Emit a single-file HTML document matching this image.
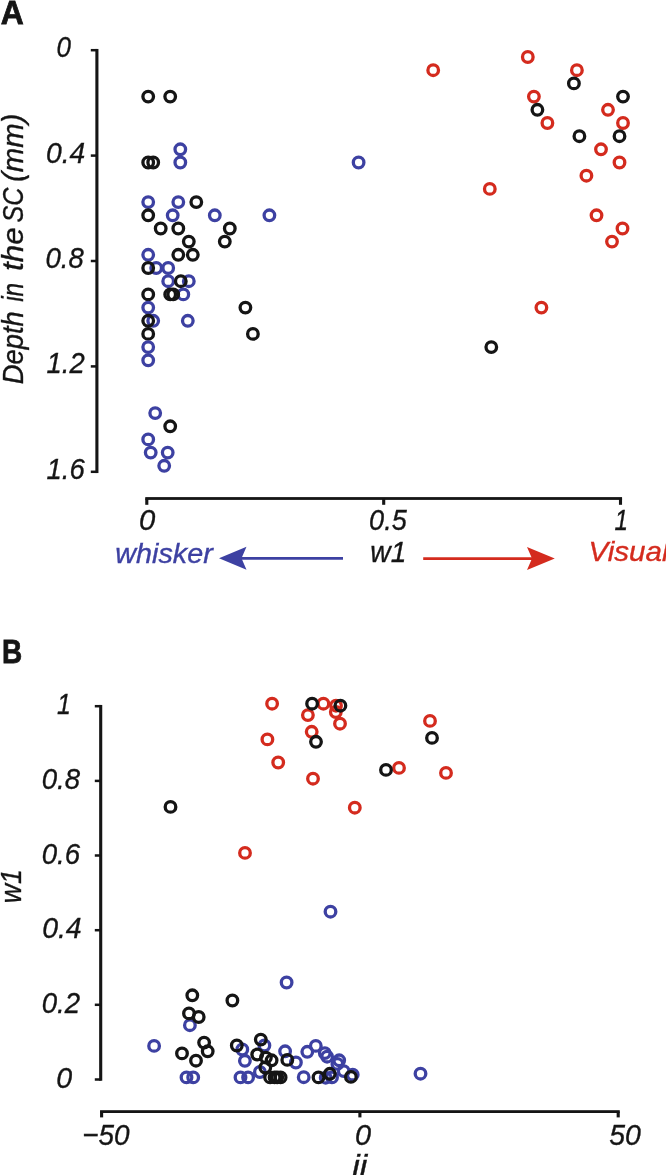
<!DOCTYPE html>
<html><head><meta charset="utf-8"><title>Figure</title>
<style>
html,body{margin:0;padding:0;background:#fff;}
body{width:666px;height:1175px;overflow:hidden;}
svg{display:block;will-change:transform;}
text{font-family:"Liberation Sans",sans-serif;}
.it{font-style:italic;font-size:29.5px;fill:#151515;stroke:#151515;stroke-width:0.35;}
.tk{letter-spacing:0.6px;}
.bd{font-weight:bold;font-size:34px;fill:#151515;stroke:#151515;stroke-width:0.8;}
.ax{stroke:#151515;stroke-width:2.7;fill:none;stroke-linejoin:miter;}
.pts circle{fill:none;stroke-width:3.3;}
</style></head><body>
<svg width="666" height="1175" viewBox="0 0 666 1175">
<rect width="666" height="1175" fill="#ffffff"/>
<text class="bd" x="0.7" y="23.8" textLength="23.0" lengthAdjust="spacingAndGlyphs">A</text>
<text class="bd" x="1.9" y="662.8" textLength="20.2" lengthAdjust="spacingAndGlyphs">B</text>
<rect x="95.35" y="48.95" width="3.1" height="424.10" fill="#151515"/>
<rect x="90.80" y="48.95" width="6.10" height="2.5" fill="#151515"/>
<rect x="90.80" y="154.35" width="6.10" height="2.5" fill="#151515"/>
<rect x="90.80" y="259.75" width="6.10" height="2.5" fill="#151515"/>
<rect x="90.80" y="365.15" width="6.10" height="2.5" fill="#151515"/>
<rect x="90.80" y="470.55" width="6.10" height="2.5" fill="#151515"/>
<rect x="145.25" y="497.10" width="476.80" height="2.8" fill="#151515"/>
<rect x="145.25" y="498.50" width="3.1" height="6.30" fill="#151515"/>
<rect x="382.15" y="498.50" width="3.1" height="6.30" fill="#151515"/>
<rect x="618.95" y="498.50" width="3.1" height="6.30" fill="#151515"/>
<text class="it" x="56.40" y="57.2" textLength="14.44" lengthAdjust="spacingAndGlyphs">0</text>
<text class="it" x="46.00" y="162.6" textLength="39.20" lengthAdjust="spacingAndGlyphs">0.4</text>
<text class="it" x="45.50" y="268.0" textLength="38.20" lengthAdjust="spacingAndGlyphs">0.8</text>
<text class="it" x="46.50" y="373.3" textLength="38.17" lengthAdjust="spacingAndGlyphs">1.2</text>
<text class="it" x="46.50" y="478.7" textLength="38.17" lengthAdjust="spacingAndGlyphs">1.6</text>
<text class="it" x="139.10" y="530.2" textLength="16.28" lengthAdjust="spacingAndGlyphs">0</text>
<text class="it" x="369.10" y="530.2" textLength="37.59" lengthAdjust="spacingAndGlyphs">0.5</text>
<text class="it" x="614.40" y="530.4" textLength="13.56" lengthAdjust="spacingAndGlyphs">1</text>
<text class="it" x="56.90" y="714.3" textLength="13.89" lengthAdjust="spacingAndGlyphs">1</text>
<text class="it" x="41.70" y="788.9" textLength="38.38" lengthAdjust="spacingAndGlyphs">0.8</text>
<text class="it" x="41.70" y="863.6" textLength="38.38" lengthAdjust="spacingAndGlyphs">0.6</text>
<text class="it" x="42.20" y="938.2" textLength="39.44" lengthAdjust="spacingAndGlyphs">0.4</text>
<text class="it" x="41.70" y="1012.9" textLength="38.35" lengthAdjust="spacingAndGlyphs">0.2</text>
<text class="it" x="56.30" y="1087.6" textLength="15.90" lengthAdjust="spacingAndGlyphs">0</text>
<text class="it" x="82.20" y="1144.6" textLength="47.33" lengthAdjust="spacingAndGlyphs">−50</text>
<text class="it" x="355.00" y="1144.6" textLength="16.05" lengthAdjust="spacingAndGlyphs">0</text>
<text class="it" x="609.20" y="1144.6" textLength="31.59" lengthAdjust="spacingAndGlyphs">50</text>
<text class="it" style="font-size:29.5px" transform="translate(22.5 384.20) rotate(-90)" x="0" y="0" textLength="73.02" lengthAdjust="spacingAndGlyphs">Depth</text>
<text class="it" style="font-size:29.5px" transform="translate(22.5 301.80) rotate(-90)" x="0" y="0" textLength="18.95" lengthAdjust="spacingAndGlyphs">in</text>
<text class="it" style="font-size:29.5px" transform="translate(22.5 271.10) rotate(-90)" x="0" y="0" textLength="43.87" lengthAdjust="spacingAndGlyphs">the</text>
<text class="it" style="font-size:29.5px" transform="translate(22.5 222.50) rotate(-90)" x="0" y="0" textLength="35.06" lengthAdjust="spacingAndGlyphs">SC</text>
<text class="it" style="font-size:29.5px" transform="translate(22.5 182.10) rotate(-90)" x="0" y="0" textLength="68.47" lengthAdjust="spacingAndGlyphs">(mm)</text>
<text class="it" x="115.3" y="562.8" style="font-size:28.5px;fill:#3d41a2;stroke:#3d41a2" textLength="97.5" lengthAdjust="spacingAndGlyphs">whisker</text>
<text class="it" x="370.3" y="562" textLength="36" lengthAdjust="spacingAndGlyphs">w1</text>
<text class="it" x="588.5" y="560.8" style="font-size:28.5px;fill:#d42b1e;stroke:#d42b1e" textLength="80" lengthAdjust="spacingAndGlyphs">Visual</text>
<path d="M343 558.4 H241" stroke="#3d41a2" stroke-width="2.7" fill="none"/>
<path d="M219 558.2 L246.5 546.8 L241.5 558.2 L246.5 569.8 Z" fill="#3d41a2"/>
<path d="M423.2 558.6 H532" stroke="#d42b1e" stroke-width="2.7" fill="none"/>
<path d="M554.8 558.6 L527 547 L532 558.6 L527 570 Z" fill="#d42b1e"/>
<g class="pts">
<circle cx="527.8" cy="57.0" r="5.3" stroke="#d42b1e"/>
<circle cx="433.2" cy="70.2" r="5.3" stroke="#d42b1e"/>
<circle cx="576.9" cy="70.2" r="5.3" stroke="#d42b1e"/>
<circle cx="573.9" cy="83.4" r="5.3" stroke="#151515"/>
<circle cx="148.2" cy="96.6" r="5.3" stroke="#151515"/>
<circle cx="170.2" cy="96.6" r="5.3" stroke="#151515"/>
<circle cx="533.9" cy="96.6" r="5.3" stroke="#d42b1e"/>
<circle cx="623.0" cy="96.6" r="5.3" stroke="#151515"/>
<circle cx="537.4" cy="109.8" r="5.3" stroke="#151515"/>
<circle cx="608.0" cy="109.8" r="5.3" stroke="#d42b1e"/>
<circle cx="547.4" cy="123.0" r="5.3" stroke="#d42b1e"/>
<circle cx="623.0" cy="123.0" r="5.3" stroke="#d42b1e"/>
<circle cx="579.4" cy="136.2" r="5.3" stroke="#151515"/>
<circle cx="619.5" cy="136.2" r="5.3" stroke="#151515"/>
<circle cx="180.3" cy="149.3" r="5.3" stroke="#3d41a2"/>
<circle cx="601.0" cy="149.3" r="5.3" stroke="#d42b1e"/>
<circle cx="148.2" cy="162.5" r="5.3" stroke="#151515"/>
<circle cx="153.2" cy="162.5" r="5.3" stroke="#151515"/>
<circle cx="180.3" cy="162.5" r="5.3" stroke="#3d41a2"/>
<circle cx="358.6" cy="162.5" r="5.3" stroke="#3d41a2"/>
<circle cx="619.5" cy="162.5" r="5.3" stroke="#d42b1e"/>
<circle cx="586.4" cy="175.7" r="5.3" stroke="#d42b1e"/>
<circle cx="489.8" cy="188.9" r="5.3" stroke="#d42b1e"/>
<circle cx="148.2" cy="202.1" r="5.3" stroke="#3d41a2"/>
<circle cx="178.3" cy="202.1" r="5.3" stroke="#3d41a2"/>
<circle cx="196.3" cy="202.1" r="5.3" stroke="#151515"/>
<circle cx="148.2" cy="215.3" r="5.3" stroke="#151515"/>
<circle cx="172.7" cy="215.3" r="5.3" stroke="#3d41a2"/>
<circle cx="214.8" cy="215.3" r="5.3" stroke="#3d41a2"/>
<circle cx="269.4" cy="215.3" r="5.3" stroke="#3d41a2"/>
<circle cx="596.5" cy="215.3" r="5.3" stroke="#d42b1e"/>
<circle cx="160.7" cy="228.5" r="5.3" stroke="#151515"/>
<circle cx="178.3" cy="228.5" r="5.3" stroke="#151515"/>
<circle cx="229.8" cy="228.5" r="5.3" stroke="#151515"/>
<circle cx="622.5" cy="228.5" r="5.3" stroke="#d42b1e"/>
<circle cx="188.8" cy="241.6" r="5.3" stroke="#151515"/>
<circle cx="224.8" cy="241.6" r="5.3" stroke="#151515"/>
<circle cx="612.0" cy="241.6" r="5.3" stroke="#d42b1e"/>
<circle cx="148.2" cy="254.8" r="5.3" stroke="#3d41a2"/>
<circle cx="178.3" cy="254.8" r="5.3" stroke="#151515"/>
<circle cx="192.8" cy="254.8" r="5.3" stroke="#151515"/>
<circle cx="156.2" cy="268.0" r="5.3" stroke="#3d41a2"/>
<circle cx="168.2" cy="268.0" r="5.3" stroke="#3d41a2"/>
<circle cx="148.2" cy="268.0" r="5.3" stroke="#151515"/>
<circle cx="168.2" cy="281.2" r="5.3" stroke="#3d41a2"/>
<circle cx="188.8" cy="281.2" r="5.3" stroke="#3d41a2"/>
<circle cx="180.8" cy="281.2" r="5.3" stroke="#151515"/>
<circle cx="183.3" cy="294.4" r="5.3" stroke="#3d41a2"/>
<circle cx="148.2" cy="294.4" r="5.3" stroke="#151515"/>
<circle cx="170.2" cy="294.4" r="5.3" stroke="#151515"/>
<circle cx="173.2" cy="294.4" r="5.3" stroke="#151515"/>
<circle cx="148.2" cy="307.6" r="5.3" stroke="#3d41a2"/>
<circle cx="245.4" cy="307.6" r="5.3" stroke="#151515"/>
<circle cx="541.4" cy="307.6" r="5.3" stroke="#d42b1e"/>
<circle cx="153.2" cy="320.8" r="5.3" stroke="#3d41a2"/>
<circle cx="187.8" cy="320.8" r="5.3" stroke="#3d41a2"/>
<circle cx="148.2" cy="320.8" r="5.3" stroke="#151515"/>
<circle cx="148.2" cy="333.9" r="5.3" stroke="#151515"/>
<circle cx="252.9" cy="333.9" r="5.3" stroke="#151515"/>
<circle cx="148.2" cy="347.1" r="5.3" stroke="#3d41a2"/>
<circle cx="491.3" cy="347.1" r="5.3" stroke="#151515"/>
<circle cx="148.2" cy="360.3" r="5.3" stroke="#3d41a2"/>
<circle cx="155.2" cy="413.1" r="5.3" stroke="#3d41a2"/>
<circle cx="170.2" cy="426.3" r="5.3" stroke="#151515"/>
<circle cx="148.2" cy="439.4" r="5.3" stroke="#3d41a2"/>
<circle cx="150.7" cy="452.6" r="5.3" stroke="#3d41a2"/>
<circle cx="167.7" cy="452.6" r="5.3" stroke="#3d41a2"/>
<circle cx="164.2" cy="465.8" r="5.3" stroke="#3d41a2"/>
</g>
<rect x="99.15" y="704.95" width="3.1" height="375.80" fill="#151515"/>
<rect x="94.80" y="704.95" width="5.90" height="2.5" fill="#151515"/>
<rect x="94.80" y="779.65" width="5.90" height="2.5" fill="#151515"/>
<rect x="94.80" y="854.25" width="5.90" height="2.5" fill="#151515"/>
<rect x="94.80" y="928.95" width="5.90" height="2.5" fill="#151515"/>
<rect x="94.80" y="1003.55" width="5.90" height="2.5" fill="#151515"/>
<rect x="94.80" y="1078.25" width="5.90" height="2.5" fill="#151515"/>
<rect x="100.05" y="1110.20" width="519.70" height="2.8" fill="#151515"/>
<rect x="100.05" y="1111.60" width="3.1" height="5.80" fill="#151515"/>
<rect x="358.35" y="1111.60" width="3.1" height="5.80" fill="#151515"/>
<rect x="616.65" y="1111.60" width="3.1" height="5.80" fill="#151515"/>
<text class="it" x="352.2" y="1175.9" textLength="15.0" lengthAdjust="spacingAndGlyphs">ii</text>
<text class="it" text-anchor="start" transform="translate(21.3 903.3) rotate(-90)" x="0" y="0" textLength="34" lengthAdjust="spacingAndGlyphs">w1</text>
<g class="pts">
<circle cx="272.1" cy="703.7" r="5.3" stroke="#d42b1e"/>
<circle cx="323.4" cy="703.7" r="5.3" stroke="#d42b1e"/>
<circle cx="336.0" cy="705.7" r="5.3" stroke="#d42b1e"/>
<circle cx="335.8" cy="712.0" r="5.3" stroke="#d42b1e"/>
<circle cx="307.9" cy="715.1" r="5.3" stroke="#d42b1e"/>
<circle cx="340.0" cy="723.7" r="5.3" stroke="#d42b1e"/>
<circle cx="311.7" cy="731.8" r="5.3" stroke="#d42b1e"/>
<circle cx="267.4" cy="739.4" r="5.3" stroke="#d42b1e"/>
<circle cx="278.2" cy="762.5" r="5.3" stroke="#d42b1e"/>
<circle cx="313.0" cy="778.7" r="5.3" stroke="#d42b1e"/>
<circle cx="399.0" cy="767.9" r="5.3" stroke="#d42b1e"/>
<circle cx="446.0" cy="772.9" r="5.3" stroke="#d42b1e"/>
<circle cx="430.0" cy="720.9" r="5.3" stroke="#d42b1e"/>
<circle cx="354.8" cy="807.7" r="5.3" stroke="#d42b1e"/>
<circle cx="245.0" cy="852.9" r="5.3" stroke="#d42b1e"/>
<circle cx="312.1" cy="703.7" r="5.3" stroke="#151515"/>
<circle cx="340.4" cy="705.7" r="5.3" stroke="#151515"/>
<circle cx="316.0" cy="741.8" r="5.3" stroke="#151515"/>
<circle cx="432.0" cy="737.9" r="5.3" stroke="#151515"/>
<circle cx="386.0" cy="769.9" r="5.3" stroke="#151515"/>
<circle cx="170.5" cy="806.9" r="5.3" stroke="#151515"/>
<circle cx="330.5" cy="911.7" r="5.3" stroke="#3d41a2"/>
<circle cx="286.6" cy="982.5" r="5.3" stroke="#3d41a2"/>
<circle cx="189.9" cy="1025.2" r="5.3" stroke="#3d41a2"/>
<circle cx="154.1" cy="1045.9" r="5.3" stroke="#3d41a2"/>
<circle cx="186.5" cy="1077.4" r="5.3" stroke="#3d41a2"/>
<circle cx="193.2" cy="1077.4" r="5.3" stroke="#3d41a2"/>
<circle cx="242.3" cy="1049.5" r="5.3" stroke="#3d41a2"/>
<circle cx="244.9" cy="1060.8" r="5.3" stroke="#3d41a2"/>
<circle cx="240.5" cy="1077.4" r="5.3" stroke="#3d41a2"/>
<circle cx="248.1" cy="1077.4" r="5.3" stroke="#3d41a2"/>
<circle cx="264.4" cy="1045.5" r="5.3" stroke="#3d41a2"/>
<circle cx="259.9" cy="1072.0" r="5.3" stroke="#3d41a2"/>
<circle cx="285.1" cy="1051.3" r="5.3" stroke="#3d41a2"/>
<circle cx="295.9" cy="1062.5" r="5.3" stroke="#3d41a2"/>
<circle cx="303.7" cy="1077.2" r="5.3" stroke="#3d41a2"/>
<circle cx="307.3" cy="1051.8" r="5.3" stroke="#3d41a2"/>
<circle cx="315.8" cy="1045.9" r="5.3" stroke="#3d41a2"/>
<circle cx="324.8" cy="1053.1" r="5.3" stroke="#3d41a2"/>
<circle cx="327.1" cy="1056.7" r="5.3" stroke="#3d41a2"/>
<circle cx="339.2" cy="1060.3" r="5.3" stroke="#3d41a2"/>
<circle cx="337.4" cy="1063.9" r="5.3" stroke="#3d41a2"/>
<circle cx="343.7" cy="1071.1" r="5.3" stroke="#3d41a2"/>
<circle cx="352.7" cy="1074.7" r="5.3" stroke="#3d41a2"/>
<circle cx="332.0" cy="1077.4" r="5.3" stroke="#3d41a2"/>
<circle cx="325.7" cy="1077.7" r="5.3" stroke="#3d41a2"/>
<circle cx="420.5" cy="1073.7" r="5.3" stroke="#3d41a2"/>
<circle cx="192.3" cy="995.3" r="5.3" stroke="#151515"/>
<circle cx="232.4" cy="1000.5" r="5.3" stroke="#151515"/>
<circle cx="189.0" cy="1013.4" r="5.3" stroke="#151515"/>
<circle cx="198.7" cy="1017.0" r="5.3" stroke="#151515"/>
<circle cx="204.1" cy="1042.6" r="5.3" stroke="#151515"/>
<circle cx="207.7" cy="1051.3" r="5.3" stroke="#151515"/>
<circle cx="182.0" cy="1053.4" r="5.3" stroke="#151515"/>
<circle cx="196.0" cy="1060.7" r="5.3" stroke="#151515"/>
<circle cx="236.8" cy="1045.5" r="5.3" stroke="#151515"/>
<circle cx="260.8" cy="1039.6" r="5.3" stroke="#151515"/>
<circle cx="257.2" cy="1054.5" r="5.3" stroke="#151515"/>
<circle cx="265.9" cy="1057.6" r="5.3" stroke="#151515"/>
<circle cx="271.6" cy="1060.3" r="5.3" stroke="#151515"/>
<circle cx="265.3" cy="1067.5" r="5.3" stroke="#151515"/>
<circle cx="270.1" cy="1077.4" r="5.3" stroke="#151515"/>
<circle cx="274.6" cy="1077.4" r="5.3" stroke="#151515"/>
<circle cx="277.2" cy="1077.4" r="5.3" stroke="#151515"/>
<circle cx="280.6" cy="1077.4" r="5.3" stroke="#151515"/>
<circle cx="287.3" cy="1059.9" r="5.3" stroke="#151515"/>
<circle cx="318.5" cy="1077.4" r="5.3" stroke="#151515"/>
<circle cx="329.8" cy="1073.8" r="5.3" stroke="#151515"/>
<circle cx="350.9" cy="1076.9" r="5.3" stroke="#151515"/>
</g>
</svg></body></html>
